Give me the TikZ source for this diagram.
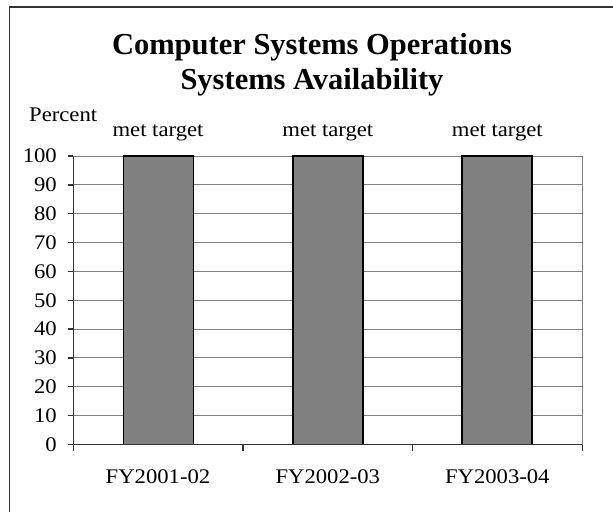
\documentclass[tikz,border=0pt]{standalone}
\usepackage{fontspec}
\setmainfont{Liberation Serif}
\newfontfamily\lblfont{Liberation Serif}[FakeStretch=1.09]
\definecolor{gridgray}{HTML}{808080}
\definecolor{axisdark}{HTML}{333333}
\definecolor{barfill}{HTML}{808080}
\begin{document}
\begin{tikzpicture}[x=1pt,y=-1pt,
  gridline/.style={draw=gridgray, line width=1pt},
  axisline/.style={draw=axisdark, line width=1.3pt},
  framecol/.style={draw=axisdark, line width=1.4pt},
  barbox/.style={draw=black, fill=barfill, line width=1.8pt},
  titletext/.style={inner sep=0pt, anchor=base, font=\fontsize{30.5}{34}\selectfont\bfseries},
  lbl/.style={inner sep=0pt, font=\lblfont\fontsize{20.8}{24}\selectfont}]
\useasboundingbox (0,0) rectangle (613,512);
% outer frame (cropped at right and bottom)
\draw[framecol] (9.7,512) -- (9.7,7) -- (613,7);
% title
\node[titletext] (t1) at (312,54.3) {Computer Systems Operations};
\node[titletext] (t2) at (312,89.3) {Systems Availability};
\node[lbl, anchor=base west] (pct) at (29,121.7) {Percent};
% grid, y ticks and labels
\foreach \v in {0,10,...,100} {
  \pgfmathsetmacro\yy{444.5-2.885*\v}
  \draw[gridline] (73.3,\yy) -- (582.3,\yy);
  \draw[axisline] (68,\yy) -- (73.3,\yy);
  \node[lbl, anchor=east] (y\v) at (57,\yy) {\v};
}
\draw[gridline] (582.3,156) -- (582.3,444.5);
% bars
\draw[barbox] (123.5,444.5) rectangle (193.5,156);
\draw[barbox] (293,444.5) rectangle (363,156);
\draw[barbox] (462.3,444.5) rectangle (532.3,156);
% axes
\draw[axisline] (73.3,156) -- (73.3,444.5);
\draw[axisline] (73.3,444.5) -- (582.3,444.5);
\foreach \xx in {73.3,243,412.7,582.3} {
  \draw[axisline] (\xx,444.5) -- (\xx,450.7);
}
% value labels
\node[lbl, anchor=base] (m1) at (158,136.7) {met target};
\node[lbl, anchor=base] (m2) at (327.8,136.7) {met target};
\node[lbl, anchor=base] (m3) at (497.3,136.7) {met target};
% category labels
\node[lbl, anchor=base] (c1) at (158,483.3) {FY2001-02};
\node[lbl, anchor=base] (c2) at (327.8,483.3) {FY2002-03};
\node[lbl, anchor=base] (c3) at (497.3,483.3) {FY2003-04};
\end{tikzpicture}
\end{document}
